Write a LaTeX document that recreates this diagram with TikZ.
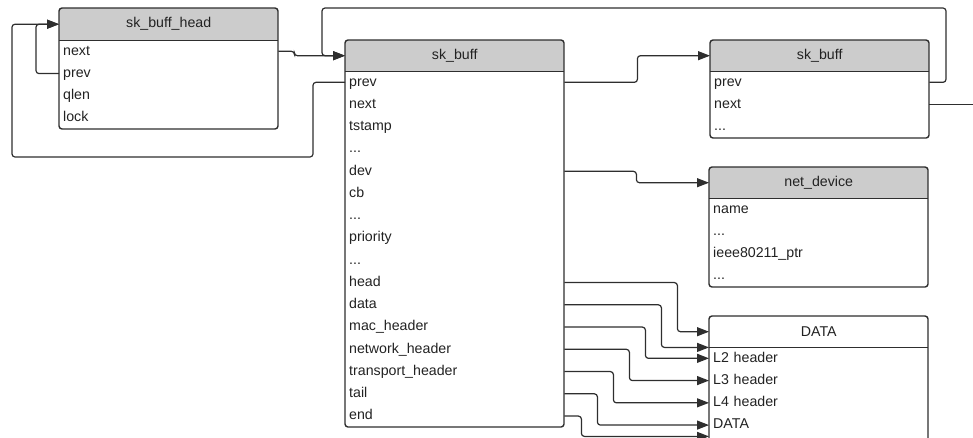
\documentclass[tikz,border=0pt]{standalone}
\usepackage{fontspec}
\setmainfont{Liberation Sans}
\usetikzlibrary{arrows.meta}
\definecolor{linec}{HTML}{2E2E2E}
\definecolor{hdrgray}{HTML}{CCCCCC}
\definecolor{txtc}{HTML}{222222}
\newcommand\threedots{...}
\tikzset{
  frame/.style={draw=linec, line width=1.4pt, rounded corners=3pt},
  framesep/.style={draw=linec, line width=1.2pt},
  hdrtxt/.style={inner sep=0pt, minimum width=219pt, text=txtc, font=\fontsize{14.2}{17}\selectfont},
  row/.style={anchor=north west, inner xsep=4pt, inner ysep=0pt, text width=211pt,
    minimum height=22.25pt, text height=10.5pt, text depth=3pt, align=left,
    text=txtc, font=\fontsize{14.2}{17}\selectfont},
  conn/.style={draw=linec, line width=1.2pt, rounded corners=3pt},
  arr/.style={conn, -{Triangle[length=12pt,width=9pt]}},
}
% #1 name, #2 left, #3 top, #4 header height, #5 bottom, #6 title, #7 header fill
\newcommand\structbox[7]{%
  \begin{scope}
    \clip[rounded corners=3pt] (#2,#3) rectangle (#2+219,#5);
    \fill[#7] (#2,#3) rectangle (#2+219,#3+#4);
  \end{scope}
  \draw[frame] (#2,#3) rectangle (#2+219,#5);
  \node[hdrtxt, minimum height=#4pt, anchor=north west] (#1-hdr) at (#2,#3) {#6};
  \draw[framesep] (#1-hdr.south west) -- (#1-hdr.south east);
}
\newcommand\structrows[4]{%
  \foreach \rowtxt [count=\rk from 0] in {#4} {
    \node[row] (#1-r\rk) at (#2,#3+\rk*22.25) {\rowtxt};
  }
}
\begin{document}
\begin{tikzpicture}[x=1pt,y=-1pt]
\useasboundingbox (0,0) rectangle (973,437);

% boxes
\structbox{skbh}{59}{8}{32}{129}{sk\_buff\_head}{hdrgray}
\structrows{skbh}{59}{40}{next,prev,qlen,lock}

\structbox{skb}{345}{40}{31}{427}{sk\_buff}{hdrgray}
\structrows{skb}{345}{71}{prev,next,tstamp,\threedots,dev,cb,\threedots,priority,\threedots,head,data,mac\_header,network\_header,transport\_header,tail,end}

\structbox{sk2}{710}{40}{31}{138}{sk\_buff}{hdrgray}
\structrows{sk2}{710}{71}{prev,next,\threedots}

\structbox{nd}{709}{167}{31}{287}{net\_device}{hdrgray}
\structrows{nd}{709}{198}{name,\threedots,ieee80211\_ptr,\threedots}

\structbox{dat}{709}{316}{31}{470}{DATA}{white}
\structrows{dat}{709}{347}{L2 header,L3 header,L4 header,DATA}

% helper coordinates
\coordinate (loopBL) at (12,157);
\coordinate (topR) at (946,8);
\coordinate (topL) at (322,8);
\coordinate (offR) at (975,0);

% connectors
\draw[arr] (skbh-r0.east) -- ++(16,0) |- (skb-hdr.west);
\draw[arr] (skbh-r1.west) -- ++(-23,0) |- (skbh-hdr.west);
\draw[arr] (skb-r0.west) -- ++(-32,0) |- (loopBL) |- (skbh-hdr.west);
\draw[arr] (skb-r0.east) -- ++(73,0) |- (sk2-hdr.west);
\draw[arr] (sk2-r0.east) -| (topR) -- (topL) |- (skb-hdr.west);
\draw[conn] (sk2-r1.east) -- (sk2-r1.east -| offR);
\draw[arr] (skb-r4.east) -- ++(72,0) |- (nd-hdr.west);
\draw[arr] (skb-r9.east) -- ++(113,0) |- (dat-hdr.west);
\draw[arr] (skb-r10.east) -- ++(97,0) |- (dat-hdr.south west);
\draw[arr] (skb-r11.east) -- ++(81,0) |- (dat-r0.west);
\draw[arr] (skb-r12.east) -- ++(65,0) |- (dat-r1.west);
\draw[arr] (skb-r13.east) -- ++(49,0) |- (dat-r2.west);
\draw[arr] (skb-r14.east) -- ++(33,0) |- (dat-r3.west);
\draw[arr] (skb-r15.east) -- ++(17,0) |- (dat-r3.south west);
\end{tikzpicture}
\end{document}
